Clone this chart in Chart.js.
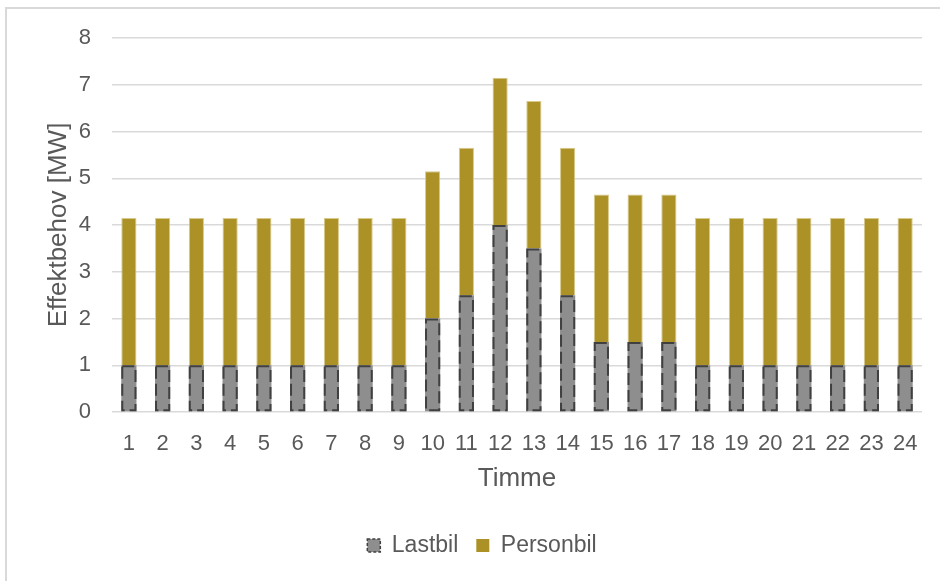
<!DOCTYPE html>
<html>
<head>
<meta charset="utf-8">
<script src="https://cdn.jsdelivr.net/npm/chart.js@4"></script>
<style>
  html, body { margin: 0; padding: 0; background: #fff; overflow: hidden; }
  #wrap { position: relative; width: 940px; height: 581px; }
  #frame { position: absolute; left: 5px; top: 7px; width: 960px; height: 600px; border: 2px solid #d9d9d9; box-sizing: border-box; }
  canvas { position: absolute; left: 0; top: 0; }
</style>
</head>
<body>
<div id="wrap">
  <div id="frame"></div>
  <canvas id="chart" width="940" height="581"></canvas>
</div>
<script>
// Data
const hours = ['1','2','3','4','5','6','7','8','9','10','11','12','13','14','15','16','17','18','19','20','21','22','23','24'];
const lastbil = [1, 1, 1, 1, 1, 1, 1, 1, 1, 2, 2.5, 4, 3.5, 2.5, 1.5, 1.5, 1.5, 1, 1, 1, 1, 1, 1, 1];
const personbil = [3.15, 3.15, 3.15, 3.15, 3.15, 3.15, 3.15, 3.15, 3.15, 3.15, 3.15, 3.15, 3.15, 3.15, 3.15, 3.15, 3.15, 3.15, 3.15, 3.15, 3.15, 3.15, 3.15, 3.15];
const yTicks = [0, 1, 2, 3, 4, 5, 6, 7, 8];

const textColor = '#595959';
const grayFill = '#8e8e8e';
const dashColor = '#404040';
const goldFill = '#ab9126';
const goldEdge = '#d8c98c';
const fontFamily = '"Liberation Sans", Arial, sans-serif';

// Dashed outline on the Lastbil bars, using the bar elements' own geometry
const dashedBars = {
    id: 'dashedBars',
    afterDatasetsDraw(chart) {
        const meta = chart.getDatasetMeta(0);
        const ctx = chart.ctx;
        ctx.save();
        ctx.strokeStyle = dashColor;
        ctx.lineWidth = 2;
        ctx.setLineDash([12, 5]);
        meta.data.forEach(bar => {
            const p = bar.getProps(['x', 'y', 'base', 'width'], true);
            ctx.strokeRect(p.x - p.width / 2 + 1, p.y + 1, p.width - 2, p.base - p.y - 2);
        });
        ctx.restore();
    }
};

// Keep the legend inside the space below the axis title, like the reference
const legendPlace = {
    id: 'legendPlace',
    beforeInit(chart) {
        const legend = chart.legend;
        const fit = legend.fit.bind(legend);
        legend.fit = function () {
            fit();
            this.height = 87;
        };
    },
    afterLayout(chart) {
        const legend = chart.legend;
        legend.left += 21;
        legend.right += 21;
        legend.top += 22;
        legend.bottom += 22;
    }
};

const ctx = document.getElementById('chart').getContext('2d');
const chart = new Chart(ctx, {
    type: 'bar',
    data: {
        labels: hours,
        datasets: [
            { label: 'Lastbil', data: lastbil, backgroundColor: grayFill, borderWidth: 0 },
            { label: 'Personbil', data: personbil, backgroundColor: goldFill, borderColor: goldEdge, borderWidth: { top: 1, left: 1, right: 1, bottom: 0 } }
        ]
    },
    options: {
        responsive: false,
        animation: false,
        devicePixelRatio: 1,
        layout: { padding: { top: 38, right: 18, left: 0, bottom: 0 } },
        datasets: {
            bar: { categoryPercentage: 1, barPercentage: 0.45 }
        },
        scales: {
            x: {
                stacked: true,
                grid: { display: false },
                border: { display: false },
                ticks: { color: textColor, font: { family: fontFamily, size: 22 }, padding: 11, maxRotation: 0, autoSkip: false },
                title: { display: true, text: 'Timme', color: textColor, font: { family: fontFamily, size: 26 }, padding: 0 },
                afterFit(scale) { scale.height = 82; }
            },
            y: {
                stacked: true,
                min: 0,
                max: 8,
                afterBuildTicks(scale) { scale.ticks = yTicks.map(v => ({ value: v })); },
                grid: { color: '#d9d9d9', lineWidth: 1.5, drawTicks: false },
                border: { display: false },
                ticks: { color: textColor, font: { family: fontFamily, size: 22 }, padding: 21 },
                title: { display: true, text: 'Effektbehov [MW]', color: textColor, font: { family: fontFamily, size: 26 }, padding: { top: 43, bottom: 0 } },
                afterFit(scale) { scale.width = 112; }
            }
        },
        plugins: {
            tooltip: { enabled: false },
            legend: {
                position: 'bottom',
                labels: {
                    color: textColor,
                    font: { family: fontFamily, size: 23 },
                    boxWidth: 13,
                    boxHeight: 13,
                    padding: 18,
                    generateLabels(chart) {
                        return [
                            { text: 'Lastbil', fillStyle: grayFill, strokeStyle: dashColor, lineWidth: 1.5, lineDash: [3, 2], fontColor: textColor, datasetIndex: 0 },
                            { text: 'Personbil', fillStyle: goldFill, strokeStyle: goldFill, lineWidth: 0, fontColor: textColor, datasetIndex: 1 }
                        ];
                    }
                }
            }
        }
    },
    plugins: [dashedBars, legendPlace]
});
</script>
</body>
</html>
